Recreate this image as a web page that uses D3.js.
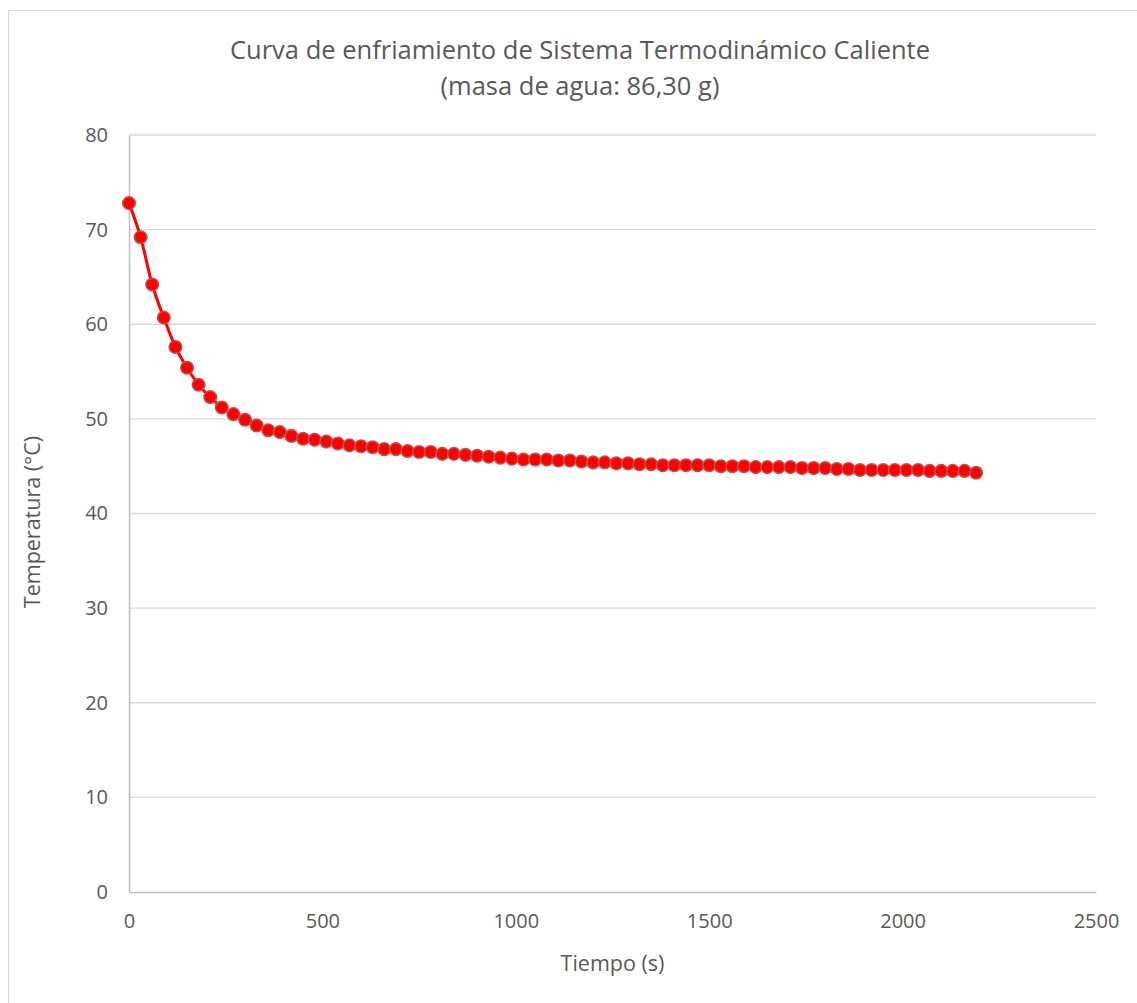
<!DOCTYPE html>
<html>
<head>
<meta charset="utf-8">
<script src="https://cdn.jsdelivr.net/npm/d3@7"></script>
<style>
  body { margin: 0; background: #fff; }
  text { font-family: "Open Sans", sans-serif; fill: #595959; }
</style>
</head>
<body>
<script>
// data (every 30 s)
var tiempo = d3.range(0, 2191, 30);
var temperatura = [
  72.8, 69.2, 64.2, 60.7, 57.6, 55.4, 53.6, 52.3, 51.2, 50.5,
  49.9, 49.3, 48.8, 48.6, 48.2, 47.9, 47.8, 47.6, 47.4, 47.2,
  47.1, 47.0, 46.8, 46.8, 46.6, 46.5, 46.5, 46.3, 46.3, 46.2,
  46.1, 46.0, 45.9, 45.8, 45.7, 45.7, 45.7, 45.6, 45.6, 45.5,
  45.4, 45.4, 45.3, 45.3, 45.2, 45.2, 45.1, 45.1, 45.1, 45.1,
  45.1, 45.0, 45.0, 45.0, 44.9, 44.9, 44.9, 44.9, 44.8, 44.8,
  44.8, 44.7, 44.7, 44.6, 44.6, 44.6, 44.6, 44.6, 44.6, 44.5,
  44.5, 44.5, 44.5, 44.3
];
var xTicks = [0, 500, 1000, 1500, 2000, 2500];
var yTicks = [0, 10, 20, 30, 40, 50, 60, 70, 80];

var data = tiempo.map(function(t, i) { return {t: t, v: temperatura[i]}; });

var W = 1137, H = 1003;
var margin = {left: 129, right: 1137 - 1096, top: 135, bottom: 1003 - 892};
var width = W - margin.left - margin.right,
    height = H - margin.top - margin.bottom;

var svg = d3.select("body").append("svg")
    .attr("width", W)
    .attr("height", H);

// chart frame
svg.append("rect")
    .attr("x", 8.5).attr("y", 10.5)
    .attr("width", W + 20).attr("height", H + 20)
    .attr("fill", "none")
    .attr("stroke", "#d9d9d9");

var x = d3.scaleLinear().domain([0, 2500]).range([0, width]);
var y = d3.scaleLinear().domain([0, 80]).range([height, 0]);

var g = svg.append("g")
    .attr("transform", "translate(" + margin.left + "," + margin.top + ")");

// gridlines
g.selectAll(".grid")
    .data(yTicks.slice(1))
  .enter().append("line")
    .attr("x1", 0).attr("x2", width)
    .attr("y1", function(d) { return y(d); })
    .attr("y2", function(d) { return y(d); })
    .attr("stroke", "#d9d9d9")
    .attr("stroke-width", 1.3);

var xAxis = d3.axisBottom(x).tickValues(xTicks).tickFormat(d3.format("d"))
    .tickSize(0).tickPadding(22);
var yAxis = d3.axisLeft(y).tickValues(yTicks).tickFormat(d3.format("d"))
    .tickSize(0).tickPadding(21);

var gx = g.append("g")
    .attr("transform", "translate(0," + height + ")")
    .call(xAxis);
gx.select(".domain").attr("stroke", "#bfbfbf").attr("stroke-width", 1.5);
gx.selectAll("text").style("font-size", "20px").attr("fill", "#595959");

var gy = g.append("g").call(yAxis);
gy.select(".domain").attr("stroke", "#bfbfbf").attr("stroke-width", 1.5);
gy.selectAll("text").style("font-size", "20px").attr("fill", "#595959");

// line + markers
var line = d3.line()
    .x(function(d) { return x(d.t); })
    .y(function(d) { return y(d.v); })
    .curve(d3.curveMonotoneX);

g.append("path")
    .datum(data)
    .attr("fill", "none")
    .attr("stroke", "#ff0000")
    .attr("stroke-width", 3)
    .attr("d", line);

g.selectAll(".dot")
    .data(data)
  .enter().append("circle")
    .attr("cx", function(d) { return x(d.t); })
    .attr("cy", function(d) { return y(d.v); })
    .attr("r", 6.3)
    .attr("fill", "#ff0000")
    .attr("stroke", "#c0504d")
    .attr("stroke-width", 1.5);

// titles
svg.append("text")
    .attr("x", 580).attr("y", 59)
    .attr("text-anchor", "middle")
    .style("font-size", "25.5px")
    .text("Curva de enfriamiento de Sistema Termodinámico Caliente");
svg.append("text")
    .attr("x", 580).attr("y", 95)
    .attr("text-anchor", "middle")
    .style("font-size", "25.5px")
    .text("(masa de agua: 86,30 g)");

svg.append("text")
    .attr("x", margin.left + width / 2).attr("y", 971)
    .attr("text-anchor", "middle")
    .style("font-size", "21.5px")
    .text("Tiempo (s)");

svg.append("text")
    .attr("transform", "translate(40,522) rotate(-90)")
    .attr("text-anchor", "middle")
    .style("font-size", "21.5px")
    .text("Temperatura (°C)");
</script>
</body>
</html>
